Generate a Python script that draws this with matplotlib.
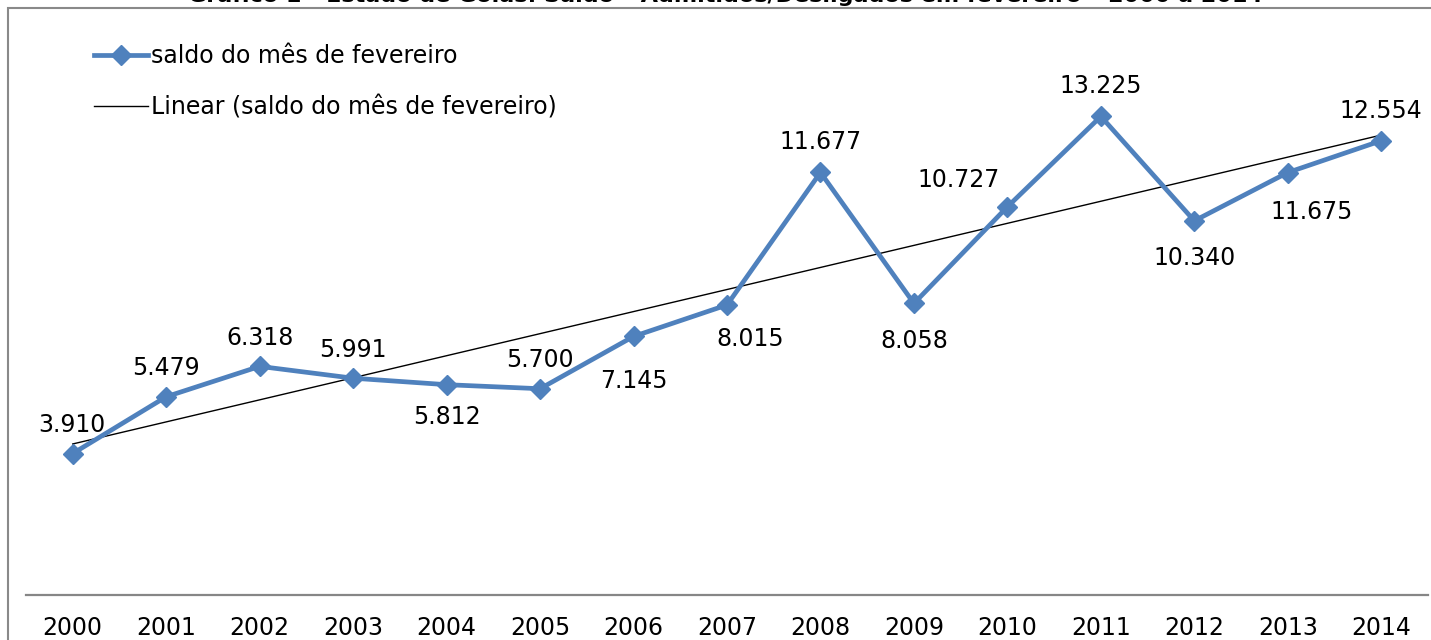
import matplotlib
matplotlib.use("Agg")
import matplotlib.pyplot as plt
from matplotlib.patches import Rectangle
import numpy as np

# Data
years = ["2000", "2001", "2002", "2003", "2004", "2005", "2006", "2007",
         "2008", "2009", "2010", "2011", "2012", "2013", "2014"]
saldo = [3910, 5479, 6318, 5991, 5812, 5700, 7145, 8015,
         11677, 8058, 10727, 13225, 10340, 11675, 12554]
labels = ["3.910", "5.479", "6.318", "5.991", "5.812", "5.700", "7.145", "8.015",
          "11.677", "8.058", "10.727", "13.225", "10.340", "11.675", "12.554"]
# label offsets in pixels (dx, dy) relative to each point
label_offsets = [(-1, 29), (0, 29), (0, 28), (0, 28), (0, -32), (0, 29), (0, -45), (23, -34),
                 (0, 30), (0, -38), (-49, 27), (0, 30), (0, -37), (24, -39), (0, 30)]

title = "Gráfico 1 - Estado de Goiás: Saldo – Admitidos/Desligados em fevereiro – 2000 a 2014"
serie_label = "saldo do mês de fevereiro"
trend_label = "Linear (saldo do mês de fevereiro)"

plt.rcParams["font.family"] = ["DejaVu Sans"]
blue = "#4F81BD"
W, H = 1431, 640
fs = 17

fig = plt.figure(figsize=(W / 100, H / 100), dpi=100)
ax = fig.add_axes([26 / W, 1 - 595 / H, (1428 - 26) / W, (595 - 16) / H])

x = np.arange(len(years))
coef = np.polyfit(x, saldo, 1)
trend = np.polyval(coef, x)

ax.plot(x, saldo, color=blue, lw=3.4, marker="D", markersize=10,
        label=serie_label, zorder=3)
ax.plot([x[0], x[-1]], [trend[0], trend[-1]], color="black", lw=1,
        label=trend_label, zorder=2)

for xi, yi, lab, (dx, dy) in zip(x, saldo, labels, label_offsets):
    ax.annotate(lab, (xi, yi), xytext=(dx, dy), textcoords="offset pixels",
                ha="center", va="center", fontsize=fs, color="black")

ax.set_xlim(-0.5, len(years) - 0.5)
ax.set_ylim(0, 16000)
ax.set_xticks(x)
ax.set_xticklabels(years, fontsize=fs)
ax.tick_params(axis="x", length=0, pad=15)
ax.set_yticks([])
for side in ["left", "right", "top"]:
    ax.spines[side].set_visible(False)
ax.spines["bottom"].set_color("#868686")
ax.spines["bottom"].set_linewidth(1.6)

leg = ax.legend(loc="upper left", bbox_to_anchor=(94 / W, 1 - 44 / H),
                bbox_transform=fig.transFigure, frameon=False, fontsize=fs,
                handlelength=2.3, handletextpad=0.12, labelspacing=1.15,
                borderpad=0, borderaxespad=0)

# outer chart frame (cut off at right and bottom)
fig.patches.append(Rectangle((8 / W, -0.1), 2, 1.1 - 8 / H, transform=fig.transFigure,
                             fill=False, edgecolor="#898989", lw=1.5))

# title, mostly cut off at the top of the image as in the source
fig.text(725 / W, 1 - 2 / H, title, ha="center", va="baseline",
         fontsize=16, fontweight="bold", color="black")

fig.savefig("out.png", dpi=100)
